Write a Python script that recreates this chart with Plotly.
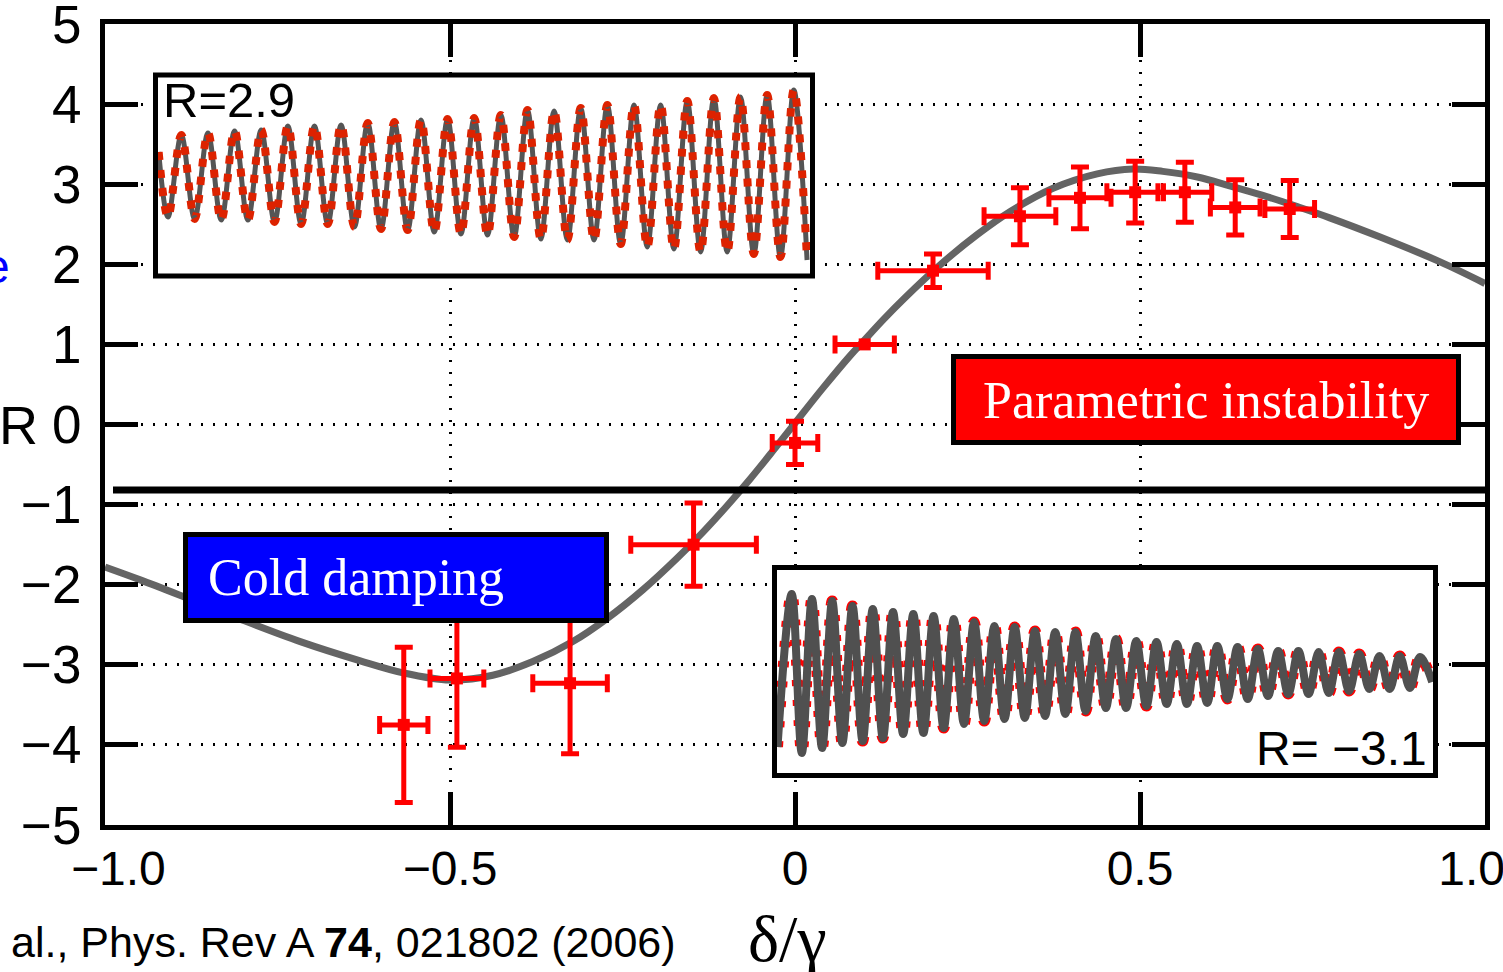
import plotly.graph_objects as go

# ---------------- data ----------------
# main theory curve R(delta/gamma)
curve_x = [-1.0, -0.949, -0.886, -0.804, -0.717, -0.630, -0.568, -0.500, -0.438, -0.380,
           -0.322, -0.272, -0.220, -0.171, -0.133, -0.099, -0.065, -0.032, 0.003, 0.041,
           0.080, 0.097, 0.128, 0.159, 0.210, 0.264, 0.312, 0.374, 0.438, 0.490,
           0.533, 0.583, 0.630, 0.678, 0.728, 0.775, 0.848, 0.935, 1.0]
curve_r = [-1.78, -1.94, -2.15, -2.43, -2.71, -2.95, -3.10, -3.19, -3.13, -2.96,
           -2.71, -2.42, -2.06, -1.67, -1.34, -1.02, -0.68, -0.33, 0.05, 0.46,
           0.86, 1.02, 1.31, 1.58, 1.99, 2.37, 2.66, 2.95, 3.13, 3.19,
           3.16, 3.09, 2.98, 2.86, 2.72, 2.58, 2.34, 2.03, 1.76]

# measured points with error bars
pts_x = [-0.567, -0.490, -0.326, -0.147, 0.000, 0.101, 0.200, 0.326, 0.413, 0.493, 0.565, 0.638, 0.717]
pts_r = [-3.75, -3.17, -3.23, -1.50, -0.23, 1.00, 1.92, 2.60, 2.83, 2.90, 2.90, 2.71, 2.69]
err_x = [0.035, 0.039, 0.054, 0.091, 0.033, 0.043, 0.080, 0.052, 0.045, 0.041, 0.039, 0.036, 0.036]
err_r = [0.97, 0.86, 0.88, 0.52, 0.27, 0.0, 0.21, 0.355, 0.385, 0.385, 0.375, 0.345, 0.355]

# upper inset (R=2.9): successive maxima / minima of the oscillation (arb. units)
top_start = 0.24
top_peaks = [0.41, 0.43, 0.45, 0.46, 0.50, 0.50, 0.51, 0.53, 0.54, 0.56, 0.57, 0.58,
             0.61, 0.66, 0.65, 0.68, 0.71, 0.71, 0.71, 0.75, 0.78, 0.79, 0.81, 0.86]
top_troughs = [-0.41, -0.43, -0.44, -0.44, -0.46, -0.48, -0.48, -0.51, -0.53, -0.54, -0.56, -0.58,
               -0.59, -0.61, -0.63, -0.64, -0.64, -0.68, -0.71, -0.73, -0.76, -0.76, -0.78, -0.81, -0.84]

# lower inset (R=-3.1): successive maxima / minima (arb. units)
bot_start = -0.74
bot_end = -0.09
bot_peaks = [0.79, 0.74, 0.72, 0.67, 0.64, 0.61, 0.59, 0.57, 0.54, 0.51, 0.47, 0.46, 0.42, 0.41, 0.41, 0.37,
             0.34, 0.32, 0.31, 0.29, 0.27, 0.27, 0.26, 0.24, 0.22, 0.22, 0.21, 0.21, 0.19, 0.17, 0.17, 0.16]
bot_troughs = [-0.80, -0.75, -0.70, -0.68, -0.65, -0.61, -0.60, -0.55, -0.51, -0.48, -0.46, -0.45, -0.43, -0.41,
               -0.38, -0.35, -0.35, -0.33, -0.31, -0.31, -0.30, -0.26, -0.26, -0.23, -0.21, -0.21, -0.20,
               -0.18, -0.16, -0.16, -0.15]

x_tickvals = [-1.0, -0.5, 0.0, 0.5, 1.0]
x_ticktext = ["\u00a0\u00a0\u22121.0", "\u22120.5", "0", "0.5", "1.0\u00a0\u00a0"]
y_tickvals = [-5, -4, -3, -2, -1, 0, 1, 2, 3, 4, 5]

# ---------------- build inset sequences (cycle index as time) ----------------
top_t, top_v = [-0.35], [top_start]
for j, tr in enumerate(top_troughs):
    top_t.append(j); top_v.append(tr)
    if j < len(top_peaks):
        top_t.append(j + 0.5); top_v.append(top_peaks[j])

bot_t, bot_v = [-0.7], [bot_start]
for k, pk in enumerate(bot_peaks):
    bot_t.append(k); bot_v.append(pk)
    if k < len(bot_troughs):
        bot_t.append(k + 0.5); bot_v.append(bot_troughs[k])
bot_t.append(31.6); bot_v.append(bot_end)

# ---------------- layout helpers (pixel -> paper / data) ----------------
W, H = 1503, 972
L, R_, T, B = 105, 18, 24, 147
PW, PH = W - L - R_, H - T - B


def fx(px):
    return (px - L) / PW


def fy(py):
    return (H - B - py) / PH


def dx(px):
    return -1.0 + 2.0 * (px - L) / PW


def dy(py):
    return 5.0 - 10.0 * (py - T) / PH


fig = go.Figure()

# main curve
fig.add_trace(go.Scatter(x=curve_x, y=curve_r, mode="lines",
                         line=dict(color="#646464", width=7, shape="spline", smoothing=1.0),
                         hoverinfo="skip"))
# data
fig.add_trace(go.Scatter(x=pts_x, y=pts_r, mode="markers",
                         marker=dict(symbol="square", size=12, color="#ff0000"),
                         error_x=dict(type="data", array=err_x, color="#ff0000", thickness=5, width=9),
                         error_y=dict(type="data", array=err_r, color="#ff0000", thickness=5, width=9)))

# top inset
fig.add_trace(go.Scatter(x=top_t, y=top_v, xaxis="x2", yaxis="y2", mode="lines",
                         line=dict(color="#555555", width=5, shape="spline")))
fig.add_trace(go.Scatter(x=top_t, y=top_v, xaxis="x2", yaxis="y2", mode="lines",
                         line=dict(color="#dd2200", width=8, shape="spline", dash="8px,10px")))
# bottom inset
fig.add_trace(go.Scatter(x=bot_t, y=bot_v, xaxis="x3", yaxis="y3", mode="lines",
                         line=dict(color="#ff0000", width=11, shape="spline", dash="6px,14px")))
fig.add_trace(go.Scatter(x=bot_t, y=bot_v, xaxis="x3", yaxis="y3", mode="lines",
                         line=dict(color="#505050", width=8, shape="spline")))

axis_common = dict(showline=True, linewidth=5, linecolor="black", mirror="ticks",
                   ticks="inside", ticklen=33, tickwidth=5, tickcolor="black",
                   showgrid=True, gridcolor="black", gridwidth=3, griddash="2px,10px",
                   zeroline=False, ticklabeloverflow="allow", automargin=False)

fig.update_layout(
    width=W, height=H, margin=dict(l=L, r=R_, t=T, b=B, autoexpand=False),
    plot_bgcolor="white", paper_bgcolor="white", showlegend=False,
    xaxis=dict(range=[-1, 1], tickvals=x_tickvals, ticktext=x_ticktext, ticklabelstandoff=-3,
               tickfont=dict(family="Liberation Sans, Arial, sans-serif", size=48, color="black"),
               **axis_common),
    yaxis=dict(range=[-5, 5], tickvals=y_tickvals, ticklabelstandoff=8,
               tickfont=dict(family="Liberation Sans, Arial, sans-serif", size=53, color="black"),
               **axis_common),
    xaxis2=dict(domain=[fx(158), fx(810)], range=[-0.3756, 24.11], anchor="y2", visible=False),
    yaxis2=dict(domain=[fy(273.5), fy(77.5)], range=[-0.975, 0.985], anchor="x2", visible=False),
    xaxis3=dict(domain=[fx(777), fx(1433)], range=[-0.725, 31.64], anchor="y3", visible=False),
    yaxis3=dict(domain=[fy(773), fy(570)], range=[-1.0, 1.03], anchor="x3", visible=False),
)

shapes = []
# white backgrounds of insets (hide grid)
for (x0, x1, y0, y1) in [(158, 810, 77.5, 273.5), (777, 1433, 570, 773)]:
    shapes.append(dict(type="rect", xref="x", yref="y", x0=dx(x0), x1=dx(x1), y0=dy(y1), y1=dy(y0),
                       fillcolor="white", line=dict(width=0), layer="between"))
# inset frames
for (x0, x1, y0, y1) in [(155.5, 812.5, 75, 276), (774.5, 1435.5, 567.5, 775.5)]:
    shapes.append(dict(type="rect", xref="paper", yref="paper", x0=fx(x0), x1=fx(x1), y0=fy(y1), y1=fy(y0),
                       line=dict(color="black", width=5), fillcolor="rgba(0,0,0,0)", layer="above"))
# thick threshold line
shapes.append(dict(type="line", xref="x", yref="y", x0=dx(113), x1=1.0, y0=dy(490), y1=dy(490),
                   line=dict(color="black", width=7), layer="above"))
# label boxes
shapes.append(dict(type="rect", xref="paper", yref="paper", x0=fx(953.5), x1=fx(1458.5), y0=fy(442.5),
                   y1=fy(356.5), fillcolor="#ff0000", line=dict(color="black", width=5), layer="above"))
shapes.append(dict(type="rect", xref="paper", yref="paper", x0=fx(185.5), x1=fx(606.5), y0=fy(620.5),
                   y1=fy(534.5), fillcolor="#0000ff", line=dict(color="black", width=5), layer="above"))
fig.update_layout(shapes=shapes)

serif = "Liberation Serif, Times New Roman, serif"
sans = "Liberation Sans, Arial, sans-serif"
ann = []
ann.append(dict(text="Parametric instability", xref="paper", yref="paper", x=fx(1206), y=fy(400),
                xanchor="center", yanchor="middle", showarrow=False,
                font=dict(family=serif, size=52, color="white")))
ann.append(dict(text="Cold damping", xref="paper", yref="paper", x=fx(206), y=fy(577),
                xanchor="left", yanchor="middle", showarrow=False,
                font=dict(family=serif, size=52, color="white")))
ann.append(dict(text="R=2.9", xref="paper", yref="paper", x=fx(161), y=fy(100),
                xanchor="left", yanchor="middle", showarrow=False,
                font=dict(family=sans, size=49, color="black")))
ann.append(dict(text="R= \u22123.1", xref="paper", yref="paper", x=fx(1429), y=fy(748),
                xanchor="right", yanchor="middle", showarrow=False,
                font=dict(family=sans, size=48, color="black")))
ann.append(dict(text="\u03b4/\u03b3", xref="paper", yref="paper", x=fx(787), y=fy(938),
                xanchor="center", yanchor="middle", showarrow=False,
                font=dict(family=serif, size=66, color="black")))
ann.append(dict(text="al., Phys. Rev A <b>74</b>, 021802 (2006)", xref="paper", yref="paper",
                x=fx(9), y=fy(942), xanchor="left", yanchor="middle", showarrow=False,
                font=dict(family=sans, size=43, color="black")))
ann.append(dict(text="R", xref="paper", yref="paper", x=fx(-3), y=fy(425),
                xanchor="left", yanchor="middle", showarrow=False,
                font=dict(family=sans, size=54, color="black")))
ann.append(dict(text="e", xref="paper", yref="paper", x=fx(12), y=fy(266),
                xanchor="right", yanchor="middle", showarrow=False,
                font=dict(family=sans, size=48, color="#0000ff")))
fig.update_layout(annotations=ann)

fig.write_html("out.html", config={"displayModeBar": False},
               post_script="document.body.style.margin='0px';")
